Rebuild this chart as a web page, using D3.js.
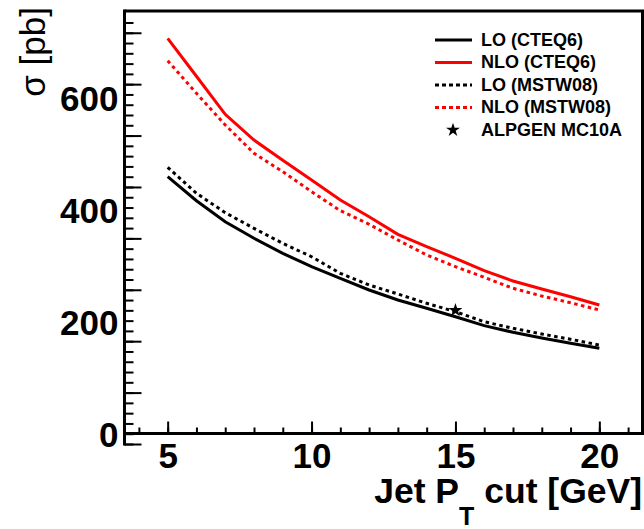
<!DOCTYPE html>
<html>
<head>
<meta charset="utf-8">
<script src="https://cdn.jsdelivr.net/npm/d3@7"></script>
<style>
  html, body { margin: 0; padding: 0; background: #fff; }
  svg { display: block; }
  text { font-family: "Liberation Sans", Arial, Helvetica, sans-serif; }
</style>
</head>
<body>
<svg id="chart" width="644" height="529"></svg>
<script>
// Jet pT cut values (GeV)
const ptCut = [5, 6, 7, 8, 9, 10, 11, 12, 13, 14, 15, 16, 17, 18, 19, 20];

// Cross sections in pb
const loCteq6   = [458.6, 415.7, 378.2, 348.6, 321.8, 297.9, 277.1, 256.3, 238.4, 223.6, 208.6, 192.7, 180.7, 170.7, 161.1, 152.1];
const nloCteq6  = [705.7, 638.0, 570.0, 524.0, 488.0, 452.7, 417.0, 387.0, 355.7, 333.6, 312.9, 290.7, 272.3, 258.0, 244.3, 229.5];
const loMstw08  = [475.4, 429.0, 394.3, 366.4, 339.6, 315.7, 286.0, 265.2, 249.1, 232.5, 217.5, 199.6, 187.9, 177.7, 168.2, 158.0];
const nloMstw08 = [665.7, 607.5, 551.0, 500.4, 467.5, 431.8, 397.9, 373.6, 345.5, 318.8, 297.9, 279.0, 259.3, 245.5, 233.6, 220.5];

// ALPGEN MC10A point
const alpgenPt = [15];
const alpgenSigma = [220];

// Axis labels
const xTickLabels = [5, 10, 15, 20];
const yTickLabels = [0, 200, 400, 600];
const xTickMinor = d3.range(4, 22, 1);
const yTickStart = -18.75;
const yMinorStep = 18.36;

const series = [
  { name: "LO (CTEQ6)",   values: loCteq6,   color: "#000000", dashed: false },
  { name: "NLO (CTEQ6)",  values: nloCteq6,  color: "#ff0000", dashed: false },
  { name: "LO (MSTW08)",  values: loMstw08,  color: "#000000", dashed: true },
  { name: "NLO (MSTW08)", values: nloMstw08, color: "#ff0000", dashed: true }
];

const svg = d3.select("#chart");
const plotLeft = 124.5, plotRight = 642.5, plotTop = 11, plotBottom = 444;

const x = d3.scaleLinear().domain([3.5, 21.5]).range([plotLeft, plotRight]);
const y = d3.scaleLinear().domain([yTickStart, 754.5]).range([plotBottom, plotTop]);
const y0 = y(0);

// curves
const line = d3.line().x((d, i) => x(ptCut[i])).y(d => y(d));
series.forEach(s => {
  svg.append("path")
    .datum(s.values)
    .attr("d", line)
    .attr("fill", "none")
    .attr("stroke", s.color)
    .attr("stroke-width", 3)
    .attr("stroke-dasharray", s.dashed ? "3.5,3.5" : null);
});

// ALPGEN star
const star = d3.symbol().type(d3.symbolStar).size(60);
svg.selectAll(".alp").data(alpgenPt).enter().append("path")
  .attr("d", star)
  .attr("transform", (d, i) => `translate(${x(d)},${y(alpgenSigma[i])})`)
  .attr("fill", "#000");

// frame
svg.append("path")
  .attr("d", `M${plotLeft},${plotTop}H${plotRight}V${y0}`)
  .attr("fill", "none").attr("stroke", "#000").attr("stroke-width", 3);

// x axis: ticks pointing inward
const xMinorAxis = d3.axisTop(x).tickValues(xTickMinor).tickSize(6).tickFormat("");
const xMajorAxis = d3.axisTop(x).tickValues(xTickLabels).tickSize(12).tickFormat("");
[xMinorAxis, xMajorAxis].forEach(ax => {
  const g = svg.append("g").attr("transform", `translate(0,${y0})`).call(ax);
  g.select(".domain").remove();
  g.selectAll("line").attr("stroke", "#000").attr("stroke-width", 2);
});
svg.append("line").attr("x1", plotLeft).attr("x2", plotRight + 1.5).attr("y1", y0).attr("y2", y0)
  .attr("stroke", "#000").attr("stroke-width", 3);

const xLabelAxis = d3.axisBottom(x).tickValues(xTickLabels).tickSize(0).tickPadding(0);
const xl = svg.append("g").attr("transform", `translate(0,${y0})`).call(xLabelAxis);
xl.select(".domain").remove();
xl.selectAll("text")
  .attr("dy", null).attr("y", 34)
  .attr("font-family", "Liberation Sans, Arial, sans-serif")
  .attr("font-weight", "bold").attr("font-size", 35).attr("fill", "#000");

// y axis: ticks pointing inward
const yMinorVals = d3.range(0, 42).map(k => yTickStart + k * yMinorStep).filter(v => v < 754);
const yMajorVals = yMinorVals.filter((v, k) => k % 5 === 0);
const yMinorAxis = d3.axisRight(y).tickValues(yMinorVals).tickSize(9).tickFormat("");
const yMajorAxis = d3.axisRight(y).tickValues(yMajorVals).tickSize(17).tickFormat("");
[yMinorAxis, yMajorAxis].forEach(ax => {
  const g = svg.append("g").attr("transform", `translate(${plotLeft},0)`).call(ax);
  g.select(".domain").remove();
  g.selectAll("line").attr("stroke", "#000").attr("stroke-width", 2);
});
svg.append("line").attr("x1", plotLeft).attr("x2", plotLeft).attr("y1", plotTop - 1.5).attr("y2", plotBottom + 1.5)
  .attr("stroke", "#000").attr("stroke-width", 3);

const yLabelAxis = d3.axisLeft(y).tickValues(yTickLabels).tickSize(0).tickPadding(6);
const yl = svg.append("g").attr("transform", `translate(${plotLeft},0)`).call(yLabelAxis);
yl.select(".domain").remove();
yl.selectAll("text")
  .attr("dy", "0.36em")
  .attr("font-family", "Liberation Sans, Arial, sans-serif")
  .attr("font-weight", "bold").attr("font-size", 35).attr("fill", "#000");

// axis titles
const xt = svg.append("text")
  .attr("x", 642).attr("y", 503)
  .attr("text-anchor", "end")
  .attr("font-weight", "bold").attr("font-size", 35.5).attr("fill", "#000");
xt.append("tspan").text("Jet P");
xt.append("tspan").attr("font-size", 25).attr("dy", 22).text("T");
xt.append("tspan").attr("dy", -22).text(" cut [GeV]");

svg.append("text")
  .attr("transform", "translate(45,7) rotate(-90)")
  .attr("text-anchor", "end")
  .attr("font-size", 35).attr("fill", "#000")
  .text("σ [pb]");

// legend
const legendRows = [40, 62.5, 85, 107.5];
const legend = svg.append("g");
series.forEach((s, i) => {
  legend.append("line")
    .attr("x1", 435).attr("x2", 472)
    .attr("y1", legendRows[i]).attr("y2", legendRows[i])
    .attr("stroke", s.color).attr("stroke-width", 3)
    .attr("stroke-dasharray", s.dashed ? "4,3" : null);
  legend.append("text")
    .attr("x", 481).attr("y", legendRows[i] + 5.5)
    .attr("font-weight", "bold").attr("font-size", 18).attr("fill", "#000")
    .text(s.name);
});
legend.append("path").attr("d", star).attr("transform", "translate(453,130)").attr("fill", "#000");
legend.append("text")
  .attr("x", 481).attr("y", 135.5)
  .attr("font-weight", "bold").attr("font-size", 18).attr("fill", "#000")
  .text("ALPGEN MC10A");
</script>
</body>
</html>
